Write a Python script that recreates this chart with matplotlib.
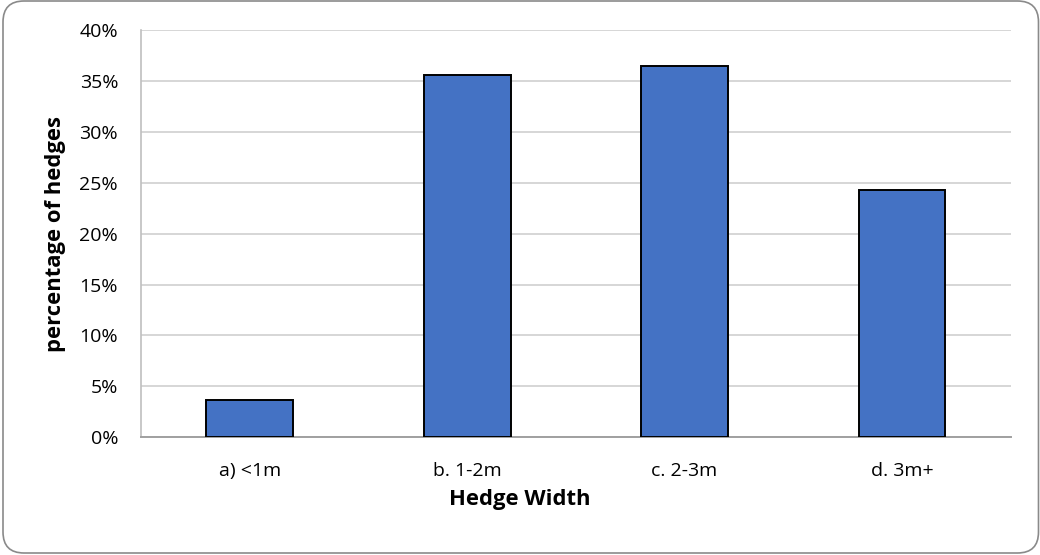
import matplotlib
matplotlib.use("Agg")
import matplotlib.pyplot as plt
from matplotlib.patches import FancyBboxPatch
from matplotlib.ticker import PercentFormatter

categories = ["a) <1m", "b. 1-2m", "c. 2-3m", "d. 3m+"]
percent_hedges = [3.7, 35.6, 36.5, 24.3]
y_ticks = [0, 5, 10, 15, 20, 25, 30, 35, 40]

plt.rcParams["font.family"] = ["Open Sans", "DejaVu Sans"]

W, H = 1040, 555
fig = plt.figure(figsize=(W / 100, H / 100), dpi=100)
fig.patch.set_facecolor("white")

# rounded chart frame (pixel coordinates), kept beneath the axes
frame = FancyBboxPatch((3, 2), 1035.5, 552,
                       boxstyle="round,pad=0,rounding_size=21",
                       transform=None, facecolor="white",
                       edgecolor="#8a8a8a", linewidth=1.2, zorder=-5)
fig.patches.append(frame)

ax = fig.add_axes([141 / W, 1 - 437.3 / H, (1010.7 - 141) / W, (437.3 - 30) / H])
ax.set_zorder(2)
ax.set_facecolor("none")

x = range(len(categories))
ax.bar(x, percent_hedges, width=0.40, color="#4472C4", edgecolor="black",
       linewidth=1.4, zorder=3)

ax.set_xlim(-0.5, len(categories) - 0.5)
ax.set_ylim(0, 40)
ax.set_yticks(y_ticks)
ax.yaxis.set_major_formatter(PercentFormatter(decimals=0))
ax.set_xticks(list(x))
ax.set_xticklabels(categories)

ax.grid(axis="y", color="#d0d0d0", linewidth=1.2, zorder=0)
ax.set_axisbelow(True)
for side in ("top", "right"):
    ax.spines[side].set_visible(False)
ax.spines["left"].set_color("#bfbfbf")
ax.spines["left"].set_linewidth(1.2)
ax.spines["bottom"].set_color("#a0a0a0")
ax.spines["bottom"].set_linewidth(1.4)

ax.tick_params(axis="both", length=0, labelsize=14, colors="black")
ax.tick_params(axis="y", pad=16.5)
ax.tick_params(axis="x", pad=18)

ax.set_xlabel("Hedge Width", fontsize=15.8, fontweight="bold", va="center")
ax.set_ylabel("percentage of hedges", fontsize=15.8, fontweight="bold", va="center")
ax.xaxis.set_label_coords((520 - 141) / 869.7, (437.3 - 500) / 407.3)
ax.yaxis.set_label_coords((56 - 141) / 869.7, 0.5)

fig.savefig("out.png", dpi=100, facecolor="white")
